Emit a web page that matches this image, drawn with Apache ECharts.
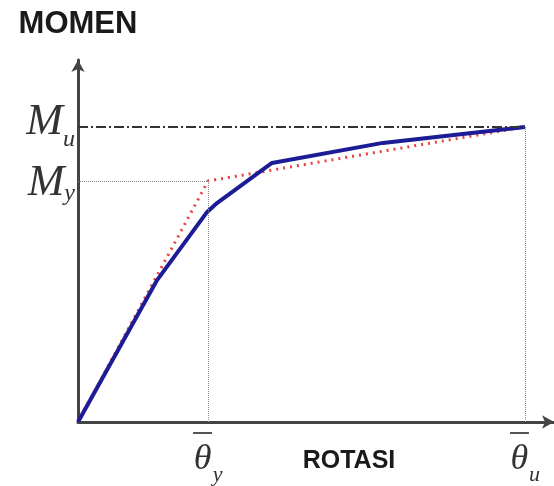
<!DOCTYPE html>
<html>
<head>
<meta charset="utf-8">
<script src="https://cdn.jsdelivr.net/npm/echarts@6/dist/echarts.min.js"></script>
<style>
  html, body { margin: 0; padding: 0; background: #fff; }
  #chart { width: 554px; height: 486px; }
</style>
</head>
<body>
<div id="chart"></div>
<script>
// titik-titik penting (rotasi dinormalisasi thd theta_u, momen thd M_u)
var thetaY = 0.291;
var thetaU = 1.0;
var momenY = 0.817;
var momenU = 1.0;

// kurva aktual (biru)
var aktualX = [0, 0.177, 0.289, 0.311, 0.434, 0.682, 1.0];
var aktualY = [0, 0.481, 0.712, 0.742, 0.878, 0.946, 1.0];

// idealisasi bilinear (merah putus-putus)
var idealX = [0, thetaY, thetaU];
var idealY = [0, momenY, momenU];

function pairs(xs, ys) {
    var out = [];
    for (var i = 0; i < xs.length; i++) {
        out.push([xs[i], ys[i]]);
    }
    return out;
}

var chart = echarts.init(document.getElementById('chart'));

var serif = 'Liberation Serif';
var greyDot = {color: '#8a8a8a', width: 1, type: 'dotted'};

var option = {
    animation: false,
    backgroundColor: '#fff',
    grid: {left: 78, right: 0, top: 60, bottom: 64, containLabel: false, outerBoundsMode: 'none'},
    xAxis: {
        type: 'value',
        min: 0,
        max: 1.065,
        name: 'ROTASI',
        nameLocation: 'middle',
        nameGap: 27,
        nameMoveOverlap: false,
        nameTextStyle: {
            fontFamily: 'Liberation Sans', fontWeight: 'bold', fontSize: 25,
            color: '#1a1a1a', padding: [0, 0, 0, 66]
        },
        splitLine: {show: false},
        axisTick: {show: false},
        axisLine: {
            lineStyle: {color: '#444', width: 3},
            symbol: ['none', 'arrow'], symbolSize: [10, 12]
        },
        axisLabel: {
            customValues: [thetaY, thetaU],
            margin: 10,
            formatter: function (v) {
                var sub = v === thetaY ? 'y' : 'u';
                return '{bar| }{gap| }\n{t|θ}{s|' + sub + '}';
            },
            rich: {
                bar: {width: 19, height: 2, backgroundColor: '#555', fontSize: 2, lineHeight: 2},
                gap: {width: 11, fontSize: 2, lineHeight: 2},
                t: {fontFamily: serif, fontStyle: 'italic', fontSize: 36, color: '#333', lineHeight: 36, width: 19},
                s: {fontFamily: serif, fontStyle: 'italic', fontSize: 22, color: '#333', width: 11,
                    padding: [30, 0, 0, 0]}
            }
        }
    },
    yAxis: {
        type: 'value',
        min: 0,
        max: 1.227,
        name: 'MOMEN',
        nameLocation: 'end',
        nameGap: 20,
        nameTextStyle: {
            fontFamily: 'Liberation Sans', fontWeight: 'bold', fontSize: 31,
            color: '#1a1a1a', align: 'center'
        },
        splitLine: {show: false},
        axisTick: {show: false},
        axisLine: {
            lineStyle: {color: '#444', width: 3},
            symbol: ['none', 'arrow'], symbolSize: [10, 12]
        },
        axisLabel: {
            customValues: [momenY, momenU],
            margin: 3,
            formatter: function (v) {
                if (v === momenY) {
                    return '{my|M}{s|y}';
                }
                return '{mu|M}{s|u}';
            },
            rich: {
                mu: {fontFamily: serif, fontStyle: 'italic', fontSize: 44, color: '#333', lineHeight: 44,
                    padding: [0, 0, 10, 0]},
                my: {fontFamily: serif, fontStyle: 'italic', fontSize: 44, color: '#333', lineHeight: 44,
                    padding: [4, 0, 0, 0]},
                s: {fontFamily: serif, fontStyle: 'italic', fontSize: 24, color: '#333',
                    padding: [26, 0, 0, 0]}
            }
        }
    },
    series: [
        {
            name: 'garis bantu',
            type: 'line',
            data: [],
            silent: true,
            markLine: {
                silent: true,
                symbol: ['none', 'none'],
                label: {show: false},
                data: [
                    [{coord: [0, momenU], lineStyle: {color: '#333', width: 2, type: [10, 3, 2, 3]}},
                     {coord: [thetaU, momenU]}],
                    [{coord: [0, momenY], lineStyle: greyDot}, {coord: [thetaY, momenY]}],
                    [{coord: [thetaY, 0], lineStyle: greyDot}, {coord: [thetaY, momenY]}],
                    [{coord: [thetaU, 0], lineStyle: greyDot}, {coord: [thetaU, momenU]}]
                ]
            }
        },
        {
            name: 'idealisasi',
            type: 'line',
            data: pairs(idealX, idealY),
            showSymbol: false,
            z: 3,
            lineStyle: {color: '#e8413a', width: 3, type: [2, 5]}
        },
        {
            name: 'aktual',
            type: 'line',
            data: pairs(aktualX, aktualY),
            showSymbol: false,
            z: 4,
            lineStyle: {color: '#1c1c96', width: 4}
        }
    ]
};

chart.setOption(option);
</script>
</body>
</html>
